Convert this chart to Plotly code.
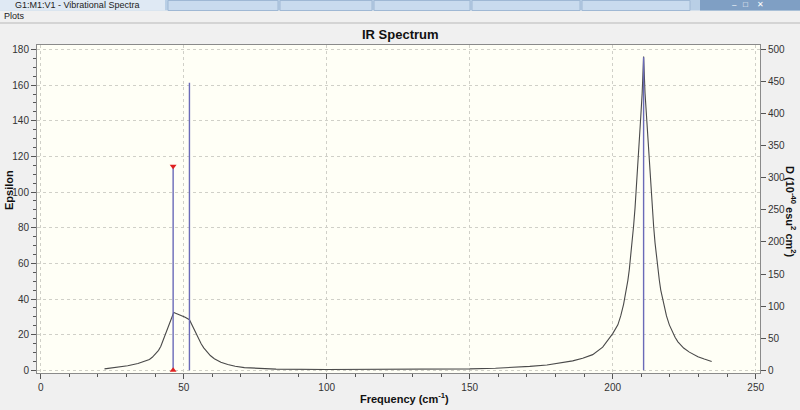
import plotly.graph_objects as go

# ---------------- data ----------------
curve_freq = [22.3, 26, 30.4, 34, 36.9, 38, 39, 40.3, 41.2, 42, 43.3, 44.2, 45.0, 45.8, 46.5,
              48, 49.1, 50.5, 52.0, 52.8, 53.7, 54.5, 55.3, 56.1, 57, 58, 59.3, 60.7, 63, 65.4,
              68, 71.2, 76, 82.3, 100, 120, 143, 150, 159, 165, 171, 177, 182.5, 186, 189.5,
              193, 196.5, 198.8, 200, 201.8, 202.8, 203.8, 204.8, 205.3, 205.8, 206.3, 206.8,
              207.3, 207.8, 208.3, 208.8, 209.3, 209.8, 210.3, 210.8, 211.3, 211.8, 212.3,
              212.8, 213.3, 213.8, 214.3, 214.8, 215.3, 215.8, 216.3, 216.8, 217.8, 218.8,
              219.8, 220.8, 221.8, 222.8, 224.8, 226.8, 229.8, 232, 234.6]
curve_eps = [0.8, 1.5, 2.6, 3.8, 5.2, 6.1, 7.3, 9.3, 11.2, 13.5, 18.7, 22.3, 26.2, 29.5, 32.4,
             31.5, 30.8, 29.8, 28.4, 25.8, 22.4, 19.5, 17.0, 14.9, 12.6, 10.5, 8.3, 6.5, 4.5, 3.3,
             2.3, 1.5, 1.0, 0.7, 0.5, 0.5, 0.6, 0.8, 1.2, 1.6, 2.2, 3.0, 4.3, 5.3, 6.8,
             8.8, 13.0, 18.0, 20.6, 25.5, 30.5, 37.0, 45.0, 50.5, 56.5, 63.5, 71.5,
             81.0, 91.0, 102.5, 115.0, 128.5, 142.0, 155.5, 176.0, 155.5, 142.0, 128.5,
             115.0, 102.5, 91.0, 81.0, 71.5, 63.5, 56.5, 50.5, 45.0, 37.0, 30.5,
             25.5, 21.5, 18.5, 16.0, 12.5, 10.2, 7.6, 6.3, 5.0]

stick_freq = [46.3, 52.0, 210.8]
stick_D = [318, 448, 488]
selected_mode = 0

x_ticks = [0, 50, 100, 150, 200, 250]
eps_ticks = [0, 20, 40, 60, 80, 100, 120, 140, 160, 180]
d_ticks = [0, 50, 100, 150, 200, 250, 300, 350, 400, 450, 500]

# ---------------- layout geometry ----------------
W, H = 800, 410
L, R, T, B = 37, 40, 45, 37
PW, PH = W - L - R, H - T - B


def px(x):
    return (x - L) / PW


def py(y):
    return (H - B - y) / PH


FONT = "Liberation Sans"

fig = go.Figure()

# spectrum curve
fig.add_trace(go.Scatter(x=curve_freq, y=curve_eps, mode="lines",
                         line=dict(color="#4a4a4a", width=1.1), yaxis="y",
                         hoverinfo="skip", showlegend=False))

# sticks
sx, sy = [], []
for f, d in zip(stick_freq, stick_D):
    sx += [f, f, None]
    sy += [0, d, None]
fig.add_trace(go.Scatter(x=sx, y=sy, mode="lines", line=dict(color="#6a6ab8", width=1.4),
                         yaxis="y2", hoverinfo="skip", showlegend=False))

# selected mode markers
fig.add_trace(go.Scatter(x=[stick_freq[selected_mode]], y=[stick_D[selected_mode]],
                         mode="markers", marker=dict(symbol="triangle-down", size=6, color="#e02020"),
                         yaxis="y2", hoverinfo="skip", showlegend=False))
fig.add_trace(go.Scatter(x=[stick_freq[selected_mode]], y=[0],
                         mode="markers", marker=dict(symbol="triangle-up", size=6, color="#e02020"),
                         yaxis="y2", hoverinfo="skip", showlegend=False, cliponaxis=False))

tickfont = dict(family=FONT, size=10, color="#333333")

fig.update_layout(
    width=W, height=H,
    margin=dict(l=L, r=R, t=T, b=B),
    paper_bgcolor="#f0f0f0",
    plot_bgcolor="#fffff6",
    showlegend=False,
    xaxis=dict(range=[-1.3, 251.5], tickvals=x_ticks, ticks="outside", ticklen=5,
               tickcolor="#555555", showline=True, linecolor="#8a8a8a", mirror=True,
               showgrid=True, gridcolor="#d0d0c8", griddash="dot", zeroline=False,
               tickfont=tickfont,
               minor=dict(dtick=10, ticks="outside", ticklen=3, tickcolor="#555555", showgrid=False)),
    yaxis=dict(range=[-1.5, 182.5], tickvals=eps_ticks, ticks="outside", ticklen=5,
               tickcolor="#555555", showline=True, linecolor="#8a8a8a",
               showgrid=True, gridcolor="#d0d0c8", griddash="dot", zeroline=False,
               tickfont=tickfont,
               minor=dict(dtick=5, ticks="outside", ticklen=3, tickcolor="#555555", showgrid=False)),
    yaxis2=dict(range=[-4.2, 507], tickvals=d_ticks, overlaying="y", side="right",
                ticks="outside", ticklen=5, tickcolor="#555555", showline=True,
                linecolor="#8a8a8a", showgrid=False, zeroline=False, tickfont=tickfont),
)

# ---------------- window chrome ----------------
shapes = [
    dict(type="rect", xref="paper", yref="paper", x0=px(0), x1=px(W), y0=py(10.5), y1=py(0),
         fillcolor="#b9cfe6", line=dict(width=0), layer="below"),
    dict(type="rect", xref="paper", yref="paper", x0=px(0), x1=px(165), y0=py(10.5), y1=py(0),
         fillcolor="#dfe9f4", line=dict(width=0), layer="below"),
]
for x0, x1 in [(168, 278), (280, 372), (374, 470), (472, 580), (582, 690)]:
    shapes.append(dict(type="rect", xref="paper", yref="paper", x0=px(x0), x1=px(x1),
                       y0=py(10.5), y1=py(0.5), fillcolor="#c9dbee",
                       line=dict(color="#9fb8d4", width=1), layer="below"))
shapes += [
    dict(type="rect", xref="paper", yref="paper", x0=px(700), x1=px(W), y0=py(10.5), y1=py(0),
         fillcolor="#7f9fc4", line=dict(width=0), layer="below"),
    dict(type="line", xref="paper", yref="paper", x0=px(0), x1=px(W), y0=py(23), y1=py(23),
         line=dict(color="#b8b8b8", width=1)),
]
fig.update_layout(shapes=shapes)

ann = [
    dict(text="G1:M1:V1 - Vibrational Spectra", x=px(13), y=py(5), xanchor="left", yanchor="middle",
         font=dict(family=FONT, size=9, color="#222222")),
    dict(text="Plots", x=px(2), y=py(16.5), xanchor="left", yanchor="middle",
         font=dict(family=FONT, size=9, color="#222222")),
    dict(text="\u2013   \u25a1    \u2715", x=px(748), y=py(5), xanchor="center", yanchor="middle",
         font=dict(family=FONT, size=8, color="#ffffff")),
    dict(text="<b>IR Spectrum</b>", x=px(400), y=py(35), xanchor="center", yanchor="middle",
         font=dict(family=FONT, size=13, color="#111111")),
    dict(text="<b>Frequency (cm<sup>-1</sup>)</b>", x=px(404), y=py(398), xanchor="center",
         yanchor="middle", font=dict(family=FONT, size=11, color="#111111")),
    dict(text="<b>Epsilon</b>", x=px(9), y=py(190), xanchor="center", yanchor="middle",
         textangle=-90, font=dict(family=FONT, size=11, color="#111111")),
    dict(text="<b>D (10<sup>-40</sup> esu<sup>2</sup> cm<sup>2</sup>)</b>", x=px(791), y=py(212),
         xanchor="center", yanchor="middle", textangle=90,
         font=dict(family=FONT, size=11, color="#111111")),
]
for a in ann:
    a.update(xref="paper", yref="paper", showarrow=False)
fig.update_layout(annotations=ann)

fig.write_html("out.html", config={"displayModeBar": False},
               post_script="document.body.style.margin='0';document.body.style.overflow='hidden';")
